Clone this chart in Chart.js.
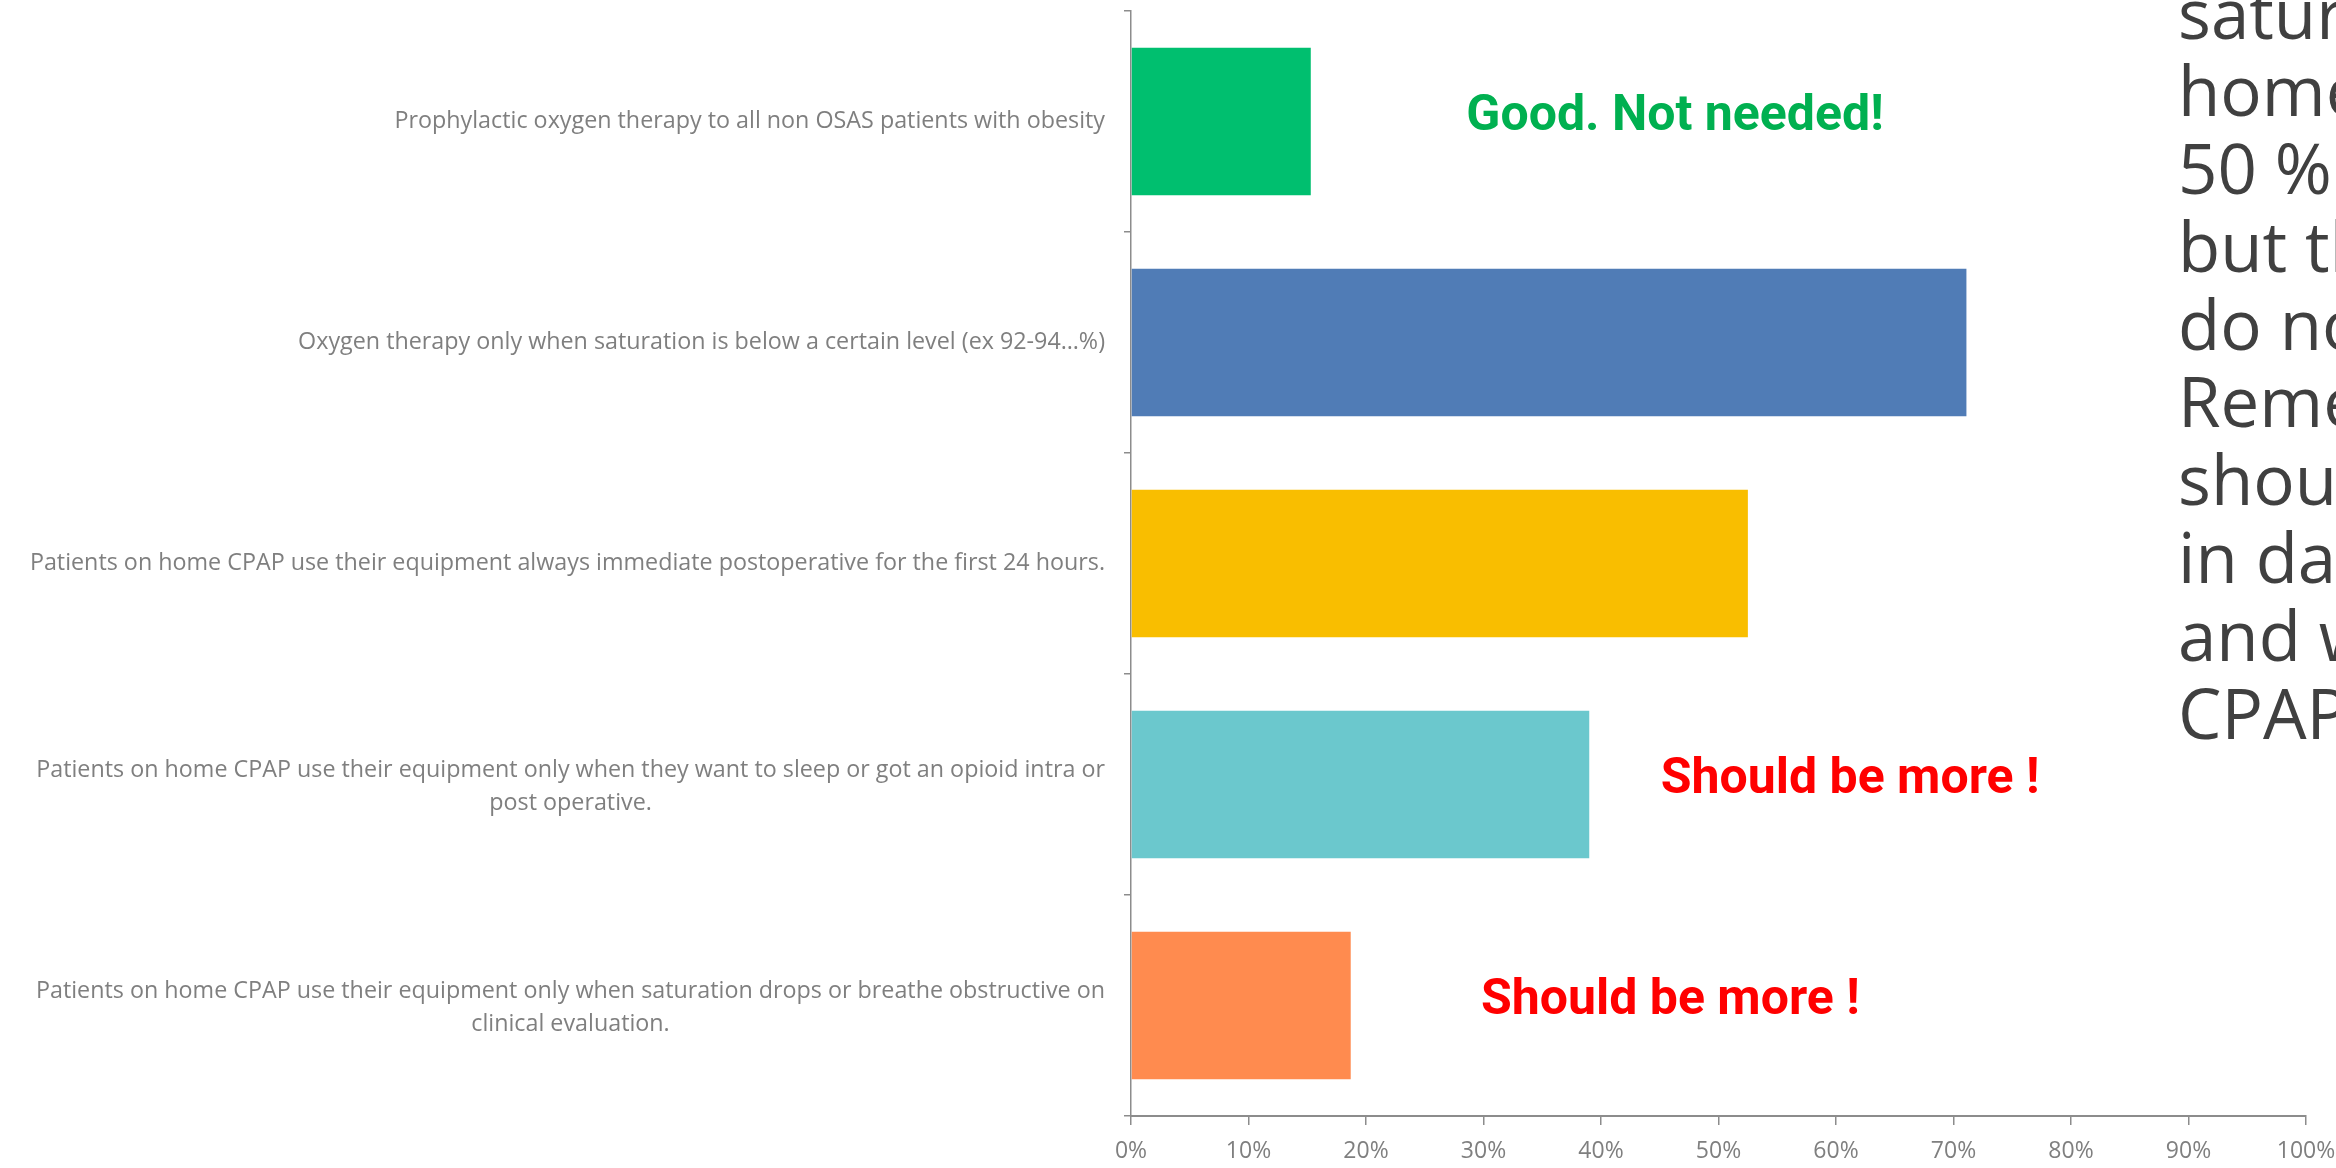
<!DOCTYPE html>
<html lang="en">
<head>
    <meta charset="UTF-8">
    <script src="https://cdn.jsdelivr.net/npm/chart.js@4.4.1/dist/chart.umd.min.js"></script>
    <title>Oxygen therapy and CPAP survey</title>
    <style>
        html, body { margin: 0; padding: 0; background: #fff; overflow: hidden; }
        .wrap { position: relative; width: 2336px; height: 1168px; }
        .side {
            position: absolute; left: 2178px; top: -26.5px;
            font-family: "Open Sans", sans-serif; font-size: 69px; line-height: 77.8px;
            color: #404040; white-space: nowrap;
        }
    </style>
</head>
<body>
    <div class="wrap">
        <canvas id="chart"></canvas>
        <div class="side">satur<br>home<br>50 %<br>but th<br>do no<br>Reme<br>shoul<br>in day<br>and w<br>CPAP</div>
    </div>

    <script>
        // survey answers, one row each
        const answers = [
            ["Prophylactic oxygen therapy to all non OSAS patients with obesity"],
            ["Oxygen therapy only when saturation is below a certain level (ex 92-94…%)"],
            ["Patients on home CPAP use their equipment always immediate postoperative for the first 24 hours."],
            ["Patients on home CPAP use their equipment only when they want to sleep or got an opioid intra or", "post operative."],
            ["Patients on home CPAP use their equipment only when saturation drops or breathe obstructive on", "clinical evaluation."]
        ];
        const percent = [15.3, 71.1, 52.5, 39.0, 18.7];
        const barColors = ["#00BF6F", "#507CB6", "#F9BE00", "#6BC8CD", "#FF8B4F"];
        const xTicks = [0, 10, 20, 30, 40, 50, 60, 70, 80, 90, 100];

        // remarks next to some of the bars
        const notes = ["Good. Not needed!", "Should be more !", "Should be more !"];
        const noteRow = [0, 3, 4];
        const noteAt = [46.3, 61.2, 45.9];
        const noteColors = ["#00B050", "#FF0000", "#FF0000"];

        const axisGray = "#8C8C8C";

        // category labels: each block right aligned to the axis, its lines centred on each other
        const answerLabels = {
            id: "answerLabels",
            afterDraw(chart) {
                const ctx = chart.ctx;
                const y = chart.scales.y;
                ctx.save();
                ctx.font = "23.3px 'Open Sans'";
                ctx.fillStyle = "#7F7F7F";
                ctx.textAlign = "center";
                ctx.textBaseline = "middle";
                answers.forEach((lines, i) => {
                    const widest = Math.max(...lines.map(l => ctx.measureText(l).width));
                    const cx = chart.chartArea.left - 26 - widest / 2;
                    const cy = y.getPixelForValue(i);
                    const lh = 33;
                    const top = cy - (lines.length - 1) * lh / 2 + (lines.length > 1 ? 2 : 0);
                    lines.forEach((l, k) => ctx.fillText(l, cx, top + k * lh));
                });
                ctx.restore();
            }
        };

        const remarks = {
            id: "remarks",
            afterDraw(chart) {
                const ctx = chart.ctx;
                const x = chart.scales.x, y = chart.scales.y;
                ctx.save();
                ctx.font = "bold 50px Roboto";
                ctx.textAlign = "center";
                ctx.textBaseline = "alphabetic";
                notes.forEach((t, i) => {
                    ctx.fillStyle = noteColors[i];
                    ctx.fillText(t, x.getPixelForValue(noteAt[i]), y.getPixelForValue(noteRow[i]) + 8);
                });
                ctx.restore();
            }
        };

        new Chart("chart", {
            type: "bar",
            data: {
                labels: answers.map(a => a.join(" ")),
                datasets: [{
                    data: percent,
                    backgroundColor: barColors,
                    barPercentage: 0.668,
                    categoryPercentage: 1
                }]
            },
            options: {
                indexAxis: "y",
                responsive: true,
                maintainAspectRatio: false,
                animation: false,
                layout: { padding: { left: 1124, right: 30, top: 11, bottom: 0 } },
                plugins: { legend: { display: false }, tooltip: { enabled: false } },
                scales: {
                    x: {
                        min: 0,
                        max: 100,
                        afterBuildTicks(scale) {
                            scale.ticks = xTicks.map(v => ({ value: v }));
                        },
                        afterFit(scale) {
                            scale.height = 52;
                            // "100%" may hang past the plot edge, the layout padding covers it
                            scale.paddingRight = 0;
                        },
                        border: { color: axisGray, width: 2 },
                        grid: { drawOnChartArea: false, tickLength: 9, color: axisGray, lineWidth: 1.5 },
                        ticks: {
                            padding: 13,
                            color: "#7F7F7F",
                            font: { family: "'Open Sans'", size: 23 },
                            callback: v => v + "%"
                        }
                    },
                    y: {
                        border: { color: axisGray, width: 1.5 },
                        grid: { drawOnChartArea: false, tickLength: 7, color: axisGray, lineWidth: 1.5, offset: true },
                        ticks: { display: false }
                    }
                }
            },
            plugins: [answerLabels, remarks]
        });
    </script>
</body>
</html>
